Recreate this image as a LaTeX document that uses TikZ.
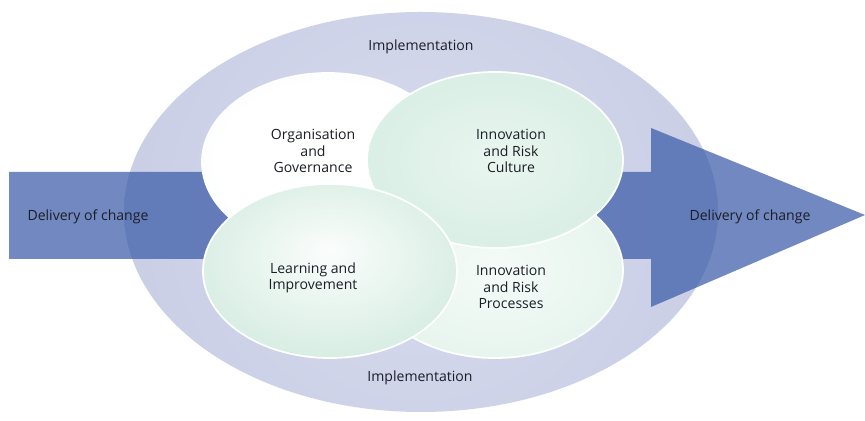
\documentclass[tikz,border=0pt]{standalone}
\usepackage{fontspec}
\setmainfont{Open Sans}

\definecolor{bandinner}{HTML}{D9DCEE}
\definecolor{bandmid}{HTML}{C5CAE3}
\definecolor{bandouter}{HTML}{A3B0D7}
\definecolor{arrowblue}{RGB}{58,91,168}
\definecolor{textgrey}{HTML}{1C1E26}
\definecolor{ogcenter}{HTML}{FFFFFF}
\definecolor{ogedge}{HTML}{E4F1EB}
\definecolor{irccenter}{HTML}{E9F6F0}
\definecolor{ircedge}{HTML}{CAE7DB}
\definecolor{licenter}{HTML}{FBFDFC}
\definecolor{limid}{HTML}{E4F3EC}
\definecolor{liedge}{HTML}{BADFCF}
\definecolor{irpcenter}{HTML}{F5FBF8}
\definecolor{irpedge}{HTML}{D9EEE5}

% ring behind the four areas
\pgfdeclareradialshading{implband}{\pgfpoint{0bp}{0bp}}{color(0bp)=(bandinner); color(33bp)=(bandmid); color(50bp)=(bandouter)}
% the four areas
\pgfdeclareradialshading{ogshade}{\pgfpoint{0bp}{0bp}}{color(0bp)=(ogcenter); color(22bp)=(ogcenter); color(50bp)=(ogedge)}
\pgfdeclareradialshading{ircshade}{\pgfpoint{0bp}{0bp}}{color(0bp)=(irccenter); color(50bp)=(ircedge)}
\pgfdeclareradialshading{lishade}{\pgfpoint{0bp}{6bp}}{color(0bp)=(licenter); color(18bp)=(limid); color(50bp)=(liedge)}
\pgfdeclareradialshading{irpshade}{\pgfpoint{0bp}{0bp}}{color(0bp)=(irpcenter); color(50bp)=(irpedge)}

\begin{document}
\begin{tikzpicture}[x=0.02cm,y=-0.02cm,
    areatext/.style={text=textgrey, font=\fontsize{8}{9.3}\selectfont, align=center},
    bubble/.style={draw=white, line width=1pt, shade}]
    \useasboundingbox (0,0) rectangle (865,421);

    % implementation ring
    \begin{scope}
        \clip (421,212) ellipse (297 and 200);
        \shade[shading=implband] (421,212) circle (300);
    \end{scope}

    % delivery of change arrow
    \fill[arrowblue, fill opacity=0.72] (9,172) -- (651,172) -- (651,128) -- (865,215)
        -- (651,307) -- (651,259) -- (9,259) -- cycle;

    % overlapping areas
    \path[bubble, shading=ogshade] (328,162) ellipse (126 and 89);
    \path[bubble, shading=irpshade] (495,270) ellipse (128 and 88);
    \path[bubble, shading=ircshade] (495,160) ellipse (128 and 88);
    \path[bubble, shading=lishade] (330,271) ellipse (127 and 87);

    \node[areatext] (impltop) at (421,47) {Implementation};
    \node[areatext] (implbot) at (420,378) {Implementation};
    \node[areatext] (deliverin) at (88,217) {Delivery of change};
    \node[areatext] (deliverout) at (750,217) {Delivery of change};

    \node[areatext] (orggov) at (313,151) {Organisation\\and\\Governance};
    \node[areatext] (culture) at (511,151) {Innovation\\and Risk\\Culture};
    \node[areatext] (learning) at (313,278) {Learning and\\Improvement};
    \node[areatext] (processes) at (511,287) {Innovation\\and Risk\\Processes};
\end{tikzpicture}
\end{document}
